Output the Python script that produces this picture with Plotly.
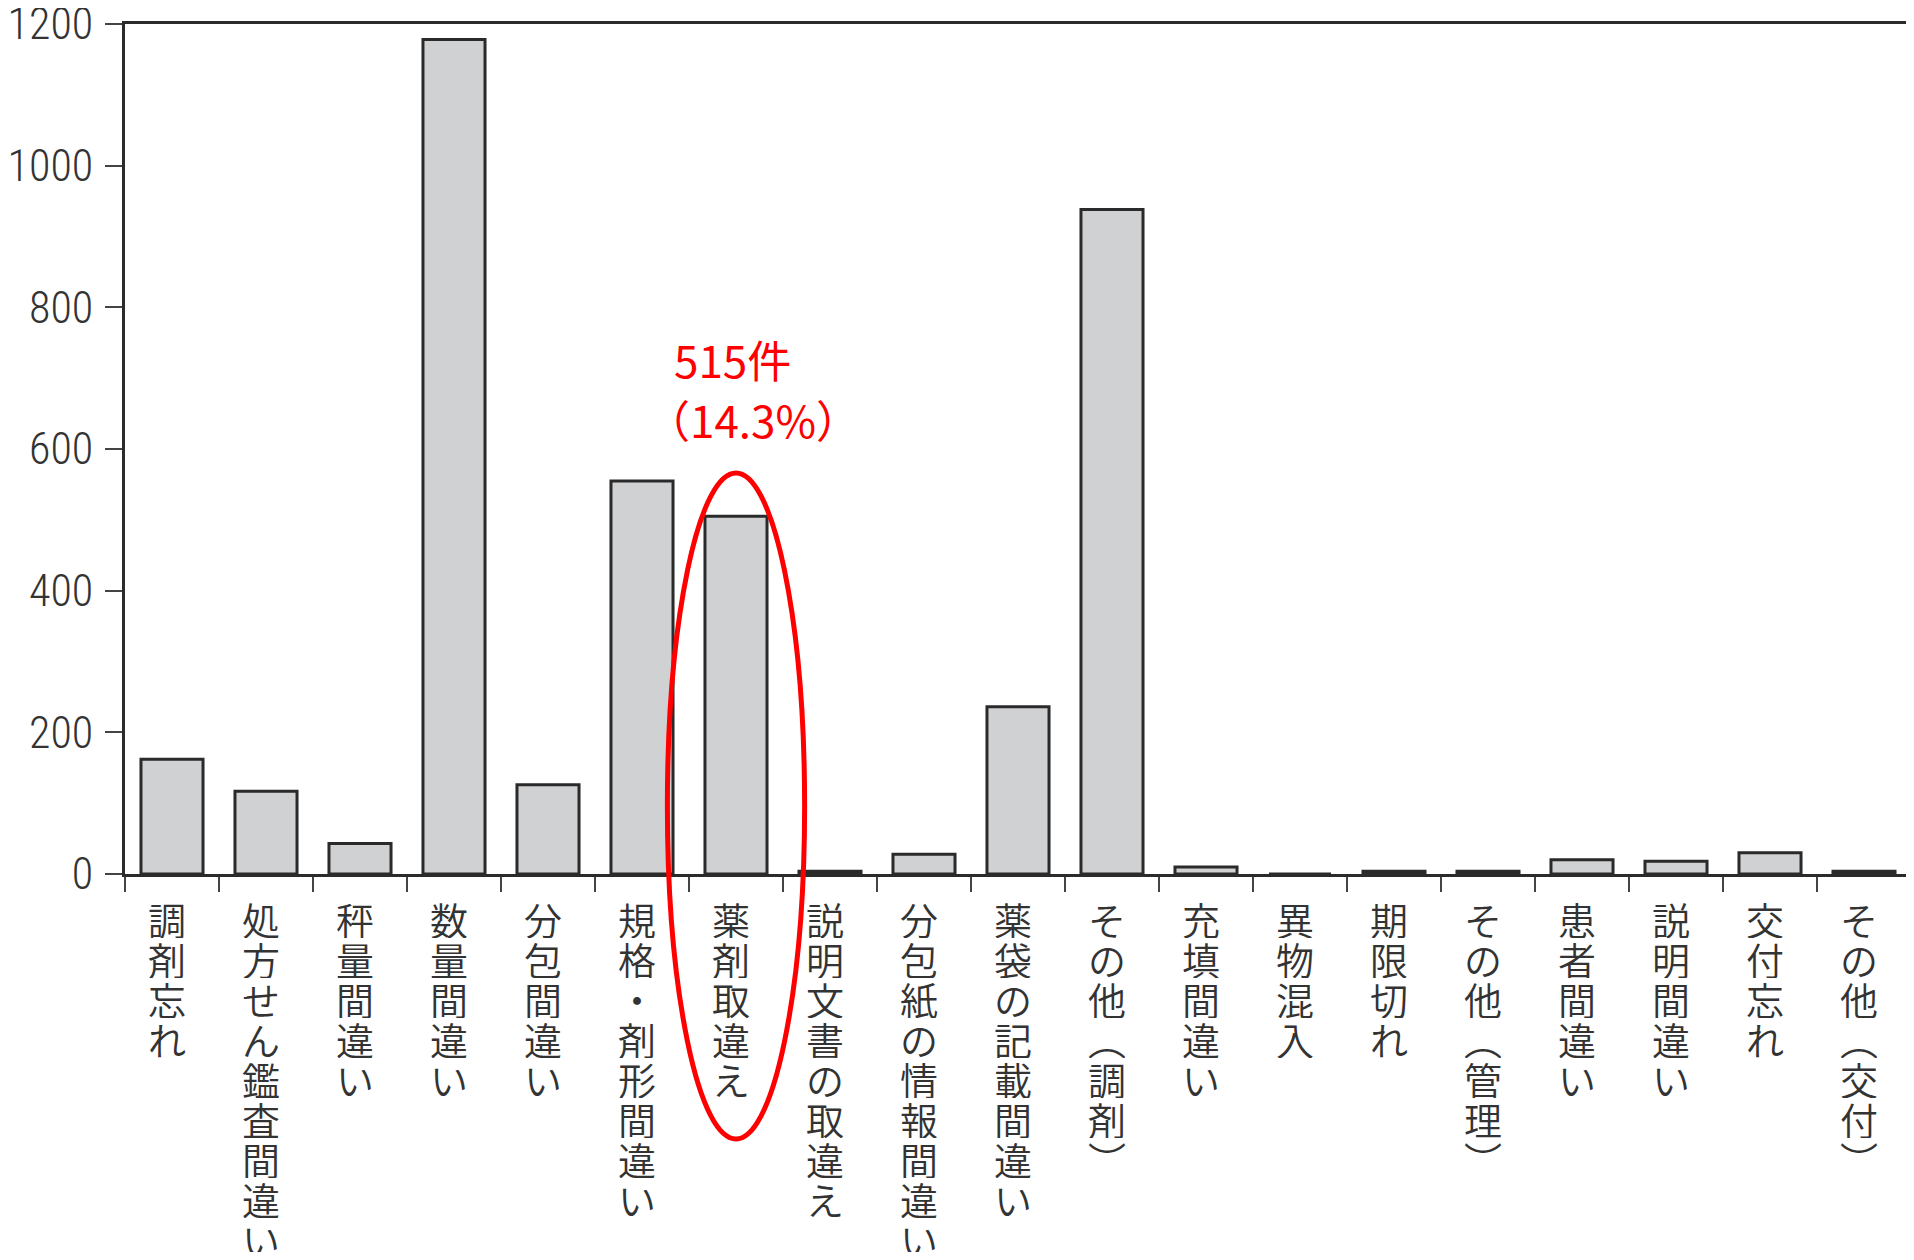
import plotly.graph_objects as go

categories = [
    "調剤忘れ", "処方せん鑑査間違い", "秤量間違い", "数量間違い", "分包間違い",
    "規格・剤形間違い", "薬剤取違え", "説明文書の取違え", "分包紙の情報間違い",
    "薬袋の記載間違い", "その他（調剤）", "充填間違い", "異物混入", "期限切れ",
    "その他（管理）", "患者間違い", "説明間違い", "交付忘れ", "その他（交付）",
]
counts = [162, 117, 43, 1178, 126, 555, 505, 4, 28, 236, 938, 10, 0, 4, 4, 20, 18, 30, 4]
y_ticks = [0, 200, 400, 600, 800, 1000, 1200]
highlight_category = "薬剤取違え"
highlight_text_1 = "515件"
highlight_text_2 = "（14.3%）"

# page body adds an 8px margin; figure is sized so the plot lands where the reference has it
OFF = 8
W, H = 1914 - OFF, 1260 - 2 * OFF
L, R, T = 124.5 - OFF, 3, 24.4 - OFF
B = H - (874 - OFF)
plot_w = W - L - R
plot_h = H - T - B
y_max = 1200

fig = go.Figure()
fig.add_trace(go.Bar(
    x=categories, y=counts,
    marker=dict(color="#d0d1d3", line=dict(color="#2a2a2a", width=3)),
    showlegend=False, hoverinfo="x+y",
))

vert_map = {"（": "︵", "）": "︶"}
label_font = dict(family="Noto Sans CJK JP DemiLight, Noto Sans CJK JP", size=38, color="#333333")
annotations = []
for cat in categories:
    for j, ch in enumerate(cat):
        annotations.append(dict(
            x=cat, y=0, xref="x", yref="y", yshift=-(44 + 40 * j), xshift=-5,
            text=vert_map.get(ch, ch), showarrow=False, height=40,
            xanchor="center", yanchor="middle", font=label_font,
        ))

n = len(categories)
hi = categories.index(highlight_category)
red_font = dict(family="Noto Sans CJK JP", size=44, color="#ff0000")
annotations.append(dict(
    x=(672 - OFF - L) / plot_w, y=727, xref="paper", yref="y",
    text=highlight_text_1, showarrow=False, xanchor="left", yanchor="middle",
    font=red_font,
))
annotations.append(dict(
    x=(644 - OFF - L) / plot_w, y=643, xref="paper", yref="y",
    text=highlight_text_2, showarrow=False, xanchor="left", yanchor="middle",
    font=red_font,
))

shapes = [dict(
    type="circle", xref="paper", yref="paper",
    x0=(hi + 0.5 - 0.73) / n, x1=(hi + 0.5 + 0.73) / n,
    y0=-374 / y_max, y1=566 / y_max,
    line=dict(color="#ff0000", width=5), fillcolor="rgba(0,0,0,0)", layer="above",
)]

axis_color = "#2b2b2b"
fig.update_layout(
    width=W, height=H,
    margin=dict(l=L, r=R, t=T, b=B, pad=0, autoexpand=False),
    paper_bgcolor="white", plot_bgcolor="white",
    bargap=0.34,
    annotations=annotations,
    shapes=shapes,
    xaxis=dict(
        type="category", showticklabels=False, ticks="outside", tickson="boundaries",
        ticklen=15, tickwidth=2, tickcolor="#444444", automargin=False,
        showline=True, linecolor=axis_color, linewidth=3, mirror=True,
        showgrid=False, zeroline=False, fixedrange=True,
    ),
    yaxis=dict(
        range=[0, y_max], tickvals=y_ticks, ticks="outside", ticklen=17, tickwidth=2,
        tickcolor="#444444", showline=True, linecolor=axis_color, linewidth=3,
        mirror=True, showgrid=False, zeroline=False, fixedrange=True, automargin=False,
        ticklabeloverflow="allow", ticklabelstandoff=3,
        tickfont=dict(family="Roboto Condensed, DejaVu Sans Condensed, sans-serif",
                      size=44, weight=300, color="#333333"),
    ),
)

fig.write_html("out.html")
